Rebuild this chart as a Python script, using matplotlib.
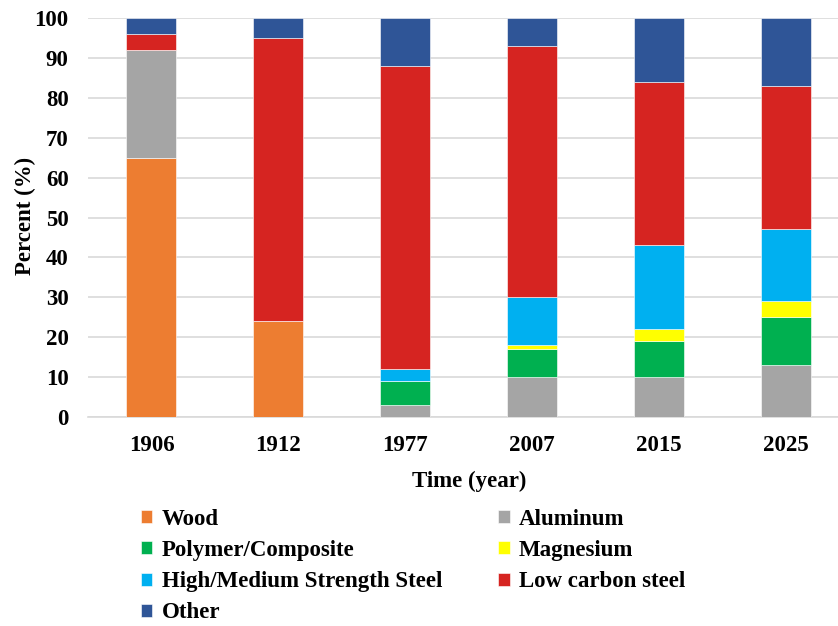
import matplotlib
matplotlib.use("Agg")
import matplotlib.pyplot as plt
import numpy as np

years = ["1906", "1912", "1977", "2007", "2015", "2025"]
wood = [65, 24, 0, 0, 0, 0]
aluminum = [27, 0, 3, 10, 10, 13]
polymer = [0, 0, 6, 7, 9, 12]
magnesium = [0, 0, 0, 1, 3, 4]
hss = [0, 0, 3, 12, 21, 18]
low_carbon = [4, 71, 76, 63, 41, 36]
other = [4, 5, 12, 7, 16, 17]

series = [
    ("Wood", wood, "#ED7D31"),
    ("Aluminum", aluminum, "#A5A5A5"),
    ("Polymer/Composite", polymer, "#00B050"),
    ("Magnesium", magnesium, "#FFFF00"),
    ("High/Medium Strength Steel", hss, "#00B0F0"),
    ("Low carbon steel", low_carbon, "#D62421"),
    ("Other", other, "#2F5597"),
]

plt.rcParams['font.family'] = ['Liberation Serif', 'DejaVu Serif']
plt.rcParams['font.weight'] = 'bold'

FS = 16.5

fig = plt.figure(figsize=(8.38, 6.26), dpi=100)
ax = fig.add_axes([88/838, 209/626, (849.5-88)/838, 399/626])

x = np.arange(len(years))
bottom = np.zeros(len(years))
handles = {}
for name, vals, col in series:
    v = np.array(vals, dtype=float)
    b = ax.bar(x, v, width=0.394, bottom=bottom, color=col, edgecolor='white',
               linewidth=0.4, label=name, zorder=3)
    handles[name] = b
    bottom += v

ax.set_xlim(-0.5, 5.5)
ax.set_ylim(0, 100)
ax.set_yticks(np.arange(0, 101, 10))
ax.set_xticks(x)
ax.set_xticklabels(years)
ax.grid(axis='y', color='#D9D9D9', linewidth=1.2, zorder=0)
for s in ['top', 'right', 'left']:
    ax.spines[s].set_visible(False)
ax.spines['bottom'].set_color('#D9D9D9')
ax.spines['bottom'].set_linewidth(1.2)
ax.tick_params(axis='both', length=0, labelsize=FS)
ax.tick_params(axis='y', pad=14)
ax.tick_params(axis='x', pad=13)
for lab in ax.get_xticklabels() + ax.get_yticklabels():
    lab.set_fontweight('bold')

fig.text(25/838, 1 - 216/626, "Percent (%)", rotation=90, ha='center', va='center',
         fontsize=FS, fontweight='bold')
fig.text(469/838, 1 - 481/626, "Time (year)", ha='center', va='center',
         fontsize=FS, fontweight='bold')

order = ["Wood", "Polymer/Composite", "High/Medium Strength Steel", "Other",
         "Aluminum", "Magnesium", "Low carbon steel"]
leg = fig.legend([handles[n] for n in order], order, ncol=2,
                 loc='upper left', bbox_to_anchor=(141/838, 1 - 509/626),
                 frameon=False, handlelength=0.5, handleheight=0.5,
                 handletextpad=0.4, columnspacing=2.45, labelspacing=0.44,
                 borderaxespad=0, borderpad=0,
                 prop={'weight': 'bold', 'size': FS})

fig.savefig("out.png", dpi=100)
